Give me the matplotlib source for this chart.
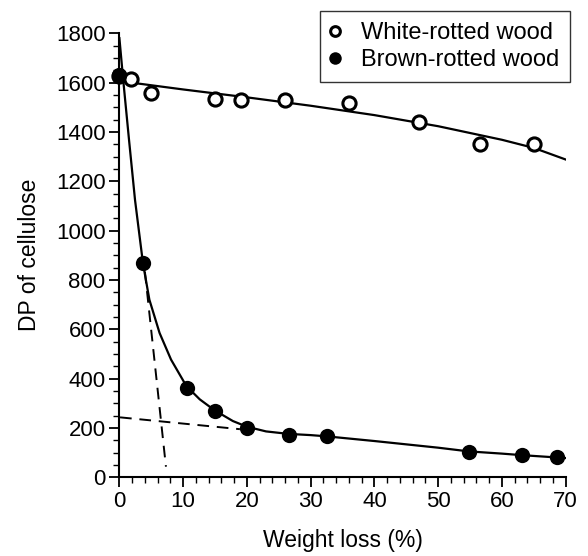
import matplotlib
matplotlib.use("Agg")
import matplotlib.pyplot as plt
from matplotlib.lines import Line2D
from matplotlib.ticker import MultipleLocator

plt.rcParams['font.family'] = ['Liberation Sans', 'DejaVu Sans']

# Data points
white_x = [0, 1.8, 4.9, 15.0, 19.0, 26.0, 36.0, 47.0, 56.6, 65.0]
white_y = [1625, 1613, 1557, 1535, 1531, 1529, 1516, 1440, 1351, 1351]

brown_x = [0, 3.65, 10.6, 15.0, 20.0, 26.6, 32.5, 54.8, 63.1, 68.7]
brown_y = [1630, 867, 361, 268, 201, 170, 167, 101, 89, 82]

# Fitted curves
white_fit_x = [0, 10, 20, 30, 40, 50, 60, 65, 70]
white_fit_y = [1606, 1572, 1540, 1506, 1468, 1423, 1368, 1335, 1288]

brown_fit_x = [0, 0.6, 1.5, 2.45, 3.7, 4.7, 6.3, 8.1, 10.5, 12.6, 14.9, 17.8,
               20, 23, 26.5, 30, 32.5, 40, 50, 54.8, 60, 63, 70]
brown_fit_y = [1780, 1610, 1370, 1124, 867, 720, 585, 477, 370, 316, 272, 228,
               205, 186, 176, 171, 166, 147, 120, 105, 96, 90, 78]

# Tangent (dashed) lines
tan1_x = [4.0, 7.3]
tan1_y = [833, 43]
tan2_x = [0.1, 18.9]
tan2_y = [243, 195]

fig = plt.figure(figsize=(5.88, 5.56), dpi=100)
ax = fig.add_axes([119.4/588, 1-477.3/556, (565.7-119.4)/588, (477.3-33.2)/556])

ax.plot(white_fit_x, white_fit_y, color='black', lw=1.6, zorder=2)
ax.plot(brown_fit_x, brown_fit_y, color='black', lw=1.6, zorder=2)
ax.plot(tan1_x, tan1_y, color='black', lw=1.4, ls=(0, (6, 4)), zorder=2)
ax.plot(tan2_x, tan2_y, color='black', lw=1.4, ls=(0, (6, 4)), zorder=2)

ax.plot(white_x, white_y, ls='none', marker='o', ms=9.5, mfc='white',
        mec='black', mew=2.2, zorder=3, clip_on=False)
ax.plot(brown_x, brown_y, ls='none', marker='o', ms=11, mfc='black',
        mec='black', mew=0, zorder=4, clip_on=False)

ax.set_xlim(0, 70)
ax.set_ylim(0, 1800)
ax.xaxis.set_major_locator(MultipleLocator(10))
ax.xaxis.set_minor_locator(MultipleLocator(2))
ax.yaxis.set_major_locator(MultipleLocator(200))
ax.yaxis.set_minor_locator(MultipleLocator(50))

for s in ['top', 'right']:
    ax.spines[s].set_visible(False)
for s in ['left', 'bottom']:
    ax.spines[s].set_linewidth(1.5)

ax.tick_params(which='major', direction='out', length=7, width=1.3,
               labelsize=16, pad=3)
ax.tick_params(which='minor', direction='out', length=4, width=1.0)

ax.set_xlabel('Weight loss (%)', fontsize=16.5, labelpad=12)
ax.set_ylabel('DP of cellulose', fontsize=16.5, labelpad=11)

handles = [
    Line2D([], [], ls='none', marker='o', ms=7, mfc='white', mec='black', mew=2.2),
    Line2D([], [], ls='none', marker='o', ms=9, mfc='black', mec='black', mew=0),
]
leg = fig.legend(handles, ['White-rotted wood', 'Brown-rotted wood'],
                 loc='upper right', bbox_to_anchor=(570/588, 1-10.7/556),
                 bbox_transform=fig.transFigure, fontsize=17, frameon=True,
                 fancybox=False, borderaxespad=0, handlelength=0.37,
                 handletextpad=0.9, borderpad=0.47, labelspacing=0.22)
leg.get_frame().set_edgecolor('black')
leg.get_frame().set_linewidth(1.0)

fig.savefig('out.png', dpi=100)
